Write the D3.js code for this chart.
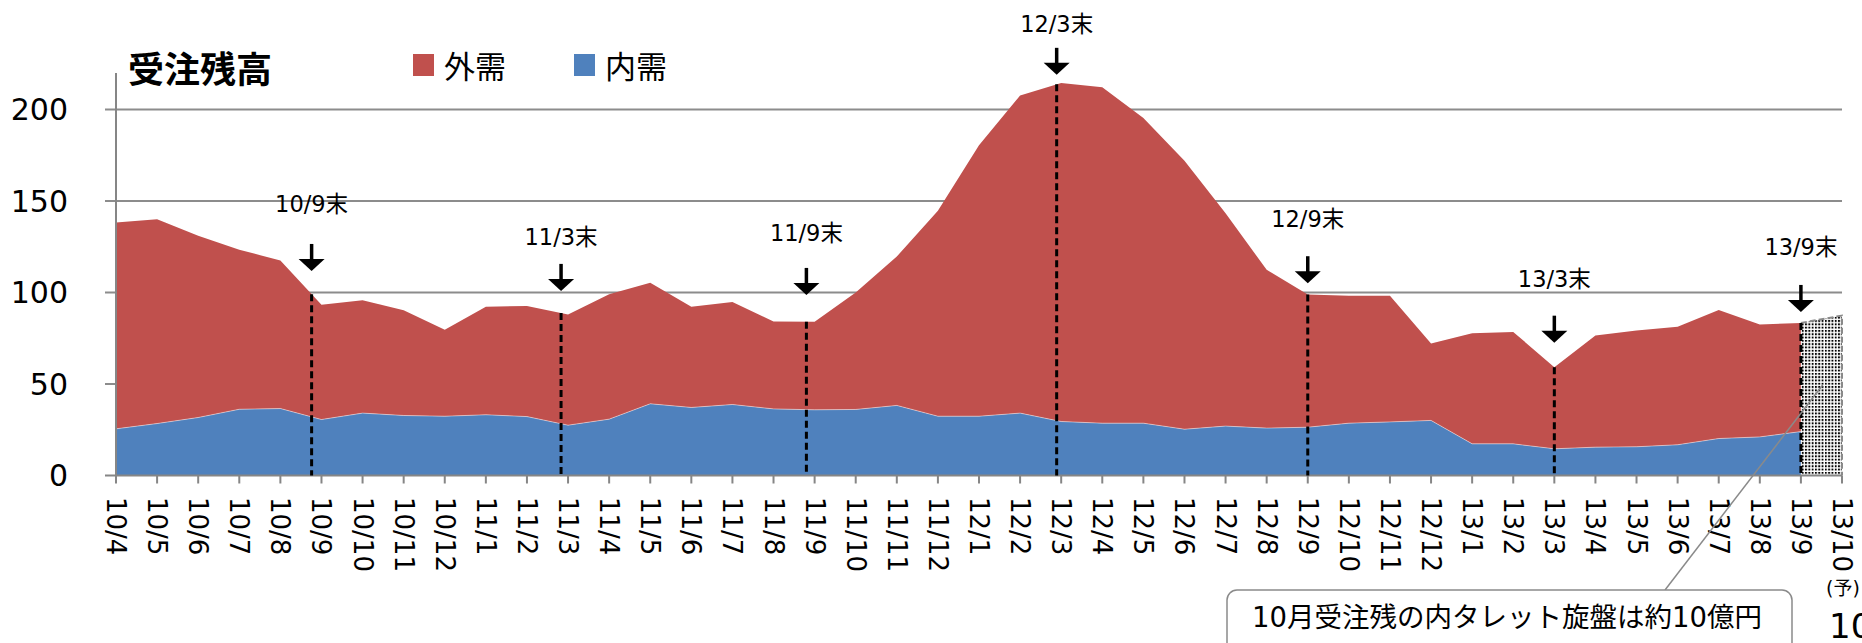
<!DOCTYPE html>
<html>
<head>
<meta charset="utf-8">
<script src="https://cdn.jsdelivr.net/npm/d3@7"></script>
<style>
  html, body { margin: 0; padding: 0; background: #fff; }
  svg { display: block; }
  text { font-family: "DejaVu Sans", "Noto Sans CJK JP", sans-serif; fill: #000; }
</style>
</head>
<body>
<svg id="chart"></svg>
<script>
// Month labels (yy/m), last one is the forecast month
const months = [
  "10/4", "10/5", "10/6", "10/7", "10/8", "10/9", "10/10", "10/11", "10/12",
  "11/1", "11/2", "11/3", "11/4", "11/5", "11/6", "11/7", "11/8", "11/9", "11/10", "11/11", "11/12",
  "12/1", "12/2", "12/3", "12/4", "12/5", "12/6", "12/7", "12/8", "12/9", "12/10", "12/11", "12/12",
  "13/1", "13/2", "13/3", "13/4", "13/5", "13/6", "13/7", "13/8", "13/9", "13/10"
];

// 内需 (domestic) backlog, 10/4 .. 13/9
const domestic = [
  25.5, 28.4, 31.7, 36.2, 36.6, 30.6, 34.1, 32.8, 32.4,
  33.2, 32.2, 27.5, 30.8, 39.2, 37.2, 38.8, 36.4, 35.9, 36.1, 38.3, 32.4,
  32.4, 34.1, 29.5, 28.6, 28.6, 25.3, 27.0, 25.9, 26.4, 28.6, 29.3, 30.1,
  17.3, 17.3, 14.6, 15.5, 15.7, 16.8, 20.2, 21.1, 24.0
];

// 外需 (foreign) backlog, 10/4 .. 13/9
const foreign = [
  112.8, 111.7, 99.3, 87.2, 80.9, 62.7, 61.7, 57.5, 47.2,
  59.0, 60.5, 60.5, 68.3, 66.1, 55.1, 56.1, 47.8, 48.1, 63.9, 81.4, 112.3,
  148.1, 173.6, 185.1, 183.6, 166.8, 146.8, 116.4, 86.5, 72.6, 69.6, 68.9, 42.1,
  60.5, 61.2, 44.6, 61.0, 63.5, 64.5, 70.3, 61.5, 59.4
];

// forecast total for 13/10 (hatched block)
const forecastMonth = "13/10";
const forecastTotal = 87.4;

const yTicks = [0, 50, 100, 150, 200];

// period-end markers: month, shift in months, arrow tip value, label value
const markLabels = ["10/9末", "11/3末", "11/9末", "12/3末", "12/9末", "13/3末", "13/9末"];
const markMonths = ["10/9", "11/3", "11/9", "12/3", "12/9", "13/3", "13/9"];
const markShift = [-0.24, -0.17, -0.2, -0.11, 0, 0, 0];
const markTip = [111.8, 100.9, 98.7, 219, 105.1, 72.6, 89.4];
const markText = [148.4, 130.4, 132.6, 246.8, 140.2, 107.4, 125.1];

const titleText = "受注残高";
const legendNames = ["外需", "内需"];
const noteText = "10月受注残の内タレット旋盤は約10億円";

const colors = { foreign: "#C0504D", domestic: "#4F81BD" };

const width = 1862, height = 643;

const svg = d3.select("#chart")
  .attr("width", width)
  .attr("height", height);

// scales
const x = d3.scalePoint().domain(months).range([116, 1842]);
const y = d3.scaleLinear().domain([0, 220]).range([475.5, 73]);
const step = x.step();

// stacked rows
const rows = foreign.map((f, i) => ({ month: months[i], domestic: domestic[i], foreign: f }));
const totals = rows.map(r => r.domestic + r.foreign);
const stacked = d3.stack().keys(["domestic", "foreign"])(rows);

const totalAt = pos => {
  const i0 = Math.max(0, Math.min(totals.length - 1, Math.floor(pos)));
  const i1 = Math.min(totals.length - 1, i0 + 1);
  const t = pos - i0;
  return totals[i0] + (totals[i1] - totals[i0]) * t;
};

// pattern for the forecast block
const defs = svg.append("defs");
const pat = defs.append("pattern")
  .attr("id", "dots")
  .attr("patternUnits", "userSpaceOnUse")
  .attr("width", 3.3).attr("height", 3.3);
pat.append("rect").attr("width", 3.3).attr("height", 3.3).attr("fill", "#fff");
pat.append("rect").attr("width", 1.9).attr("height", 1.9).attr("fill", "#000");

// gridlines
svg.append("g")
  .selectAll("line")
  .data(yTicks.filter(d => d > 0))
  .join("line")
  .attr("x1", 105).attr("x2", x(forecastMonth))
  .attr("y1", d => y(d)).attr("y2", d => y(d))
  .attr("stroke", "#8c8c8c")
  .attr("stroke-width", 2);

// areas
const area = d3.area()
  .x(d => x(d.data.month))
  .y0(d => y(d[0]))
  .y1(d => y(d[1]));

svg.append("g")
  .selectAll("path")
  .data(stacked)
  .join("path")
  .attr("fill", d => colors[d.key])
  .attr("d", area);

// faint light edge on top of the domestic layer
svg.append("path")
  .datum(stacked[0])
  .attr("fill", "none")
  .attr("stroke", "#fff")
  .attr("stroke-opacity", 0.45)
  .attr("stroke-width", 1)
  .attr("d", d3.line().x(d => x(d.data.month)).y(d => y(d[1])));

// forecast block
const lastMonth = months[rows.length - 1];
const fc = [
  { m: lastMonth, v: totals[totals.length - 1] },
  { m: forecastMonth, v: forecastTotal }
];
svg.append("path")
  .datum(fc)
  .attr("fill", "url(#dots)")
  .attr("d", d3.area().x(d => x(d.m)).y0(y(0)).y1(d => y(d.v)));
svg.append("path")
  .datum(fc)
  .attr("fill", "none")
  .attr("stroke", "#8a8a8a")
  .attr("stroke-width", 2)
  .attr("stroke-dasharray", "6,3")
  .attr("d", d => `M${x(d[0].m)},${y(d[0].v)}L${x(d[1].m)},${y(d[1].v)}L${x(d[1].m)},${y(0)}`);

// axes
svg.append("line")
  .attr("x1", x(months[0])).attr("x2", x(months[0]))
  .attr("y1", y(220)).attr("y2", y(0))
  .attr("stroke", "#868686").attr("stroke-width", 2);
svg.append("line")
  .attr("x1", 105).attr("x2", x(forecastMonth))
  .attr("y1", y(0)).attr("y2", y(0))
  .attr("stroke", "#868686").attr("stroke-width", 2);

svg.append("g")
  .selectAll("line")
  .data(months)
  .join("line")
  .attr("x1", d => x(d)).attr("x2", d => x(d))
  .attr("y1", y(0)).attr("y2", y(0) + 8)
  .attr("stroke", "#868686").attr("stroke-width", 2);

svg.append("g")
  .selectAll("text")
  .data(yTicks)
  .join("text")
  .attr("x", 68)
  .attr("y", d => y(d))
  .attr("text-anchor", "end")
  .attr("dominant-baseline", "central")
  .style("font-size", "30px")
  .text(d => d);

svg.append("g")
  .selectAll("text")
  .data(months)
  .join("text")
  .attr("transform", d => `translate(${x(d)},497) rotate(90)`)
  .attr("dominant-baseline", "central")
  .style("font-size", "26px")
  .text(d => d);

svg.append("text")
  .attr("x", x(forecastMonth) + 1)
  .attr("y", 588)
  .attr("text-anchor", "middle")
  .attr("dominant-baseline", "central")
  .style("font-size", "19px")
  .text("(予)");

// partly cut off at the right edge, as in the original slide
svg.append("text")
  .attr("x", 1829)
  .attr("y", 638)
  .style("font-size", "34px")
  .text("10");

// period-end markers
markMonths.forEach((m, i) => {
  const pos = months.indexOf(m) + markShift[i];
  const cx = x(m) + markShift[i] * step;
  const tipY = y(markTip[i]);

  svg.append("line")
    .attr("x1", cx).attr("x2", cx)
    .attr("y1", y(totalAt(pos))).attr("y2", y(0))
    .attr("stroke", "#000")
    .attr("stroke-width", 3)
    .attr("stroke-dasharray", "7,4");

  svg.append("line")
    .attr("x1", cx).attr("x2", cx)
    .attr("y1", tipY - 27).attr("y2", tipY - 8)
    .attr("stroke", "#000")
    .attr("stroke-width", 3.5);
  svg.append("path")
    .attr("d", `M${cx - 13},${tipY - 12}L${cx + 13},${tipY - 12}L${cx},${tipY}Z`)
    .attr("fill", "#000");

  svg.append("text")
    .attr("x", cx)
    .attr("y", y(markText[i]))
    .attr("text-anchor", "middle")
    .attr("dominant-baseline", "central")
    .style("font-size", "22.5px")
    .text(markLabels[i]);
});

// title and legend
svg.append("text")
  .attr("x", 128)
  .attr("y", 67)
  .attr("dominant-baseline", "central")
  .style("font-family", "'Noto Sans CJK JP', sans-serif")
  .style("font-weight", "bold")
  .style("font-size", "36px")
  .text(titleText);

const legend = svg.append("g");
[["foreign", 413], ["domestic", 574]].forEach(([key, lx], i) => {
  legend.append("rect")
    .attr("x", lx).attr("y", 54)
    .attr("width", 21).attr("height", 22)
    .attr("fill", colors[key]);
  legend.append("text")
    .attr("x", lx + 31)
    .attr("y", 67)
    .attr("dominant-baseline", "central")
    .style("font-size", "31px")
    .text(legendNames[i]);
});

// callout
svg.append("line")
  .attr("x1", x(lastMonth) + 0.53 * step)
  .attr("y1", y(49.5))
  .attr("x2", 1665).attr("y2", 590)
  .attr("stroke", "#8a8a8a")
  .attr("stroke-width", 1.5);

svg.append("rect")
  .attr("x", 1227).attr("y", 590)
  .attr("width", 565).attr("height", 80)
  .attr("rx", 10)
  .attr("fill", "#fff")
  .attr("stroke", "#8a8a8a")
  .attr("stroke-width", 1.5);

svg.append("text")
  .attr("x", 1252)
  .attr("y", 617)
  .attr("dominant-baseline", "central")
  .style("font-size", "27.5px")
  .text(noteText);
</script>
</body>
</html>
